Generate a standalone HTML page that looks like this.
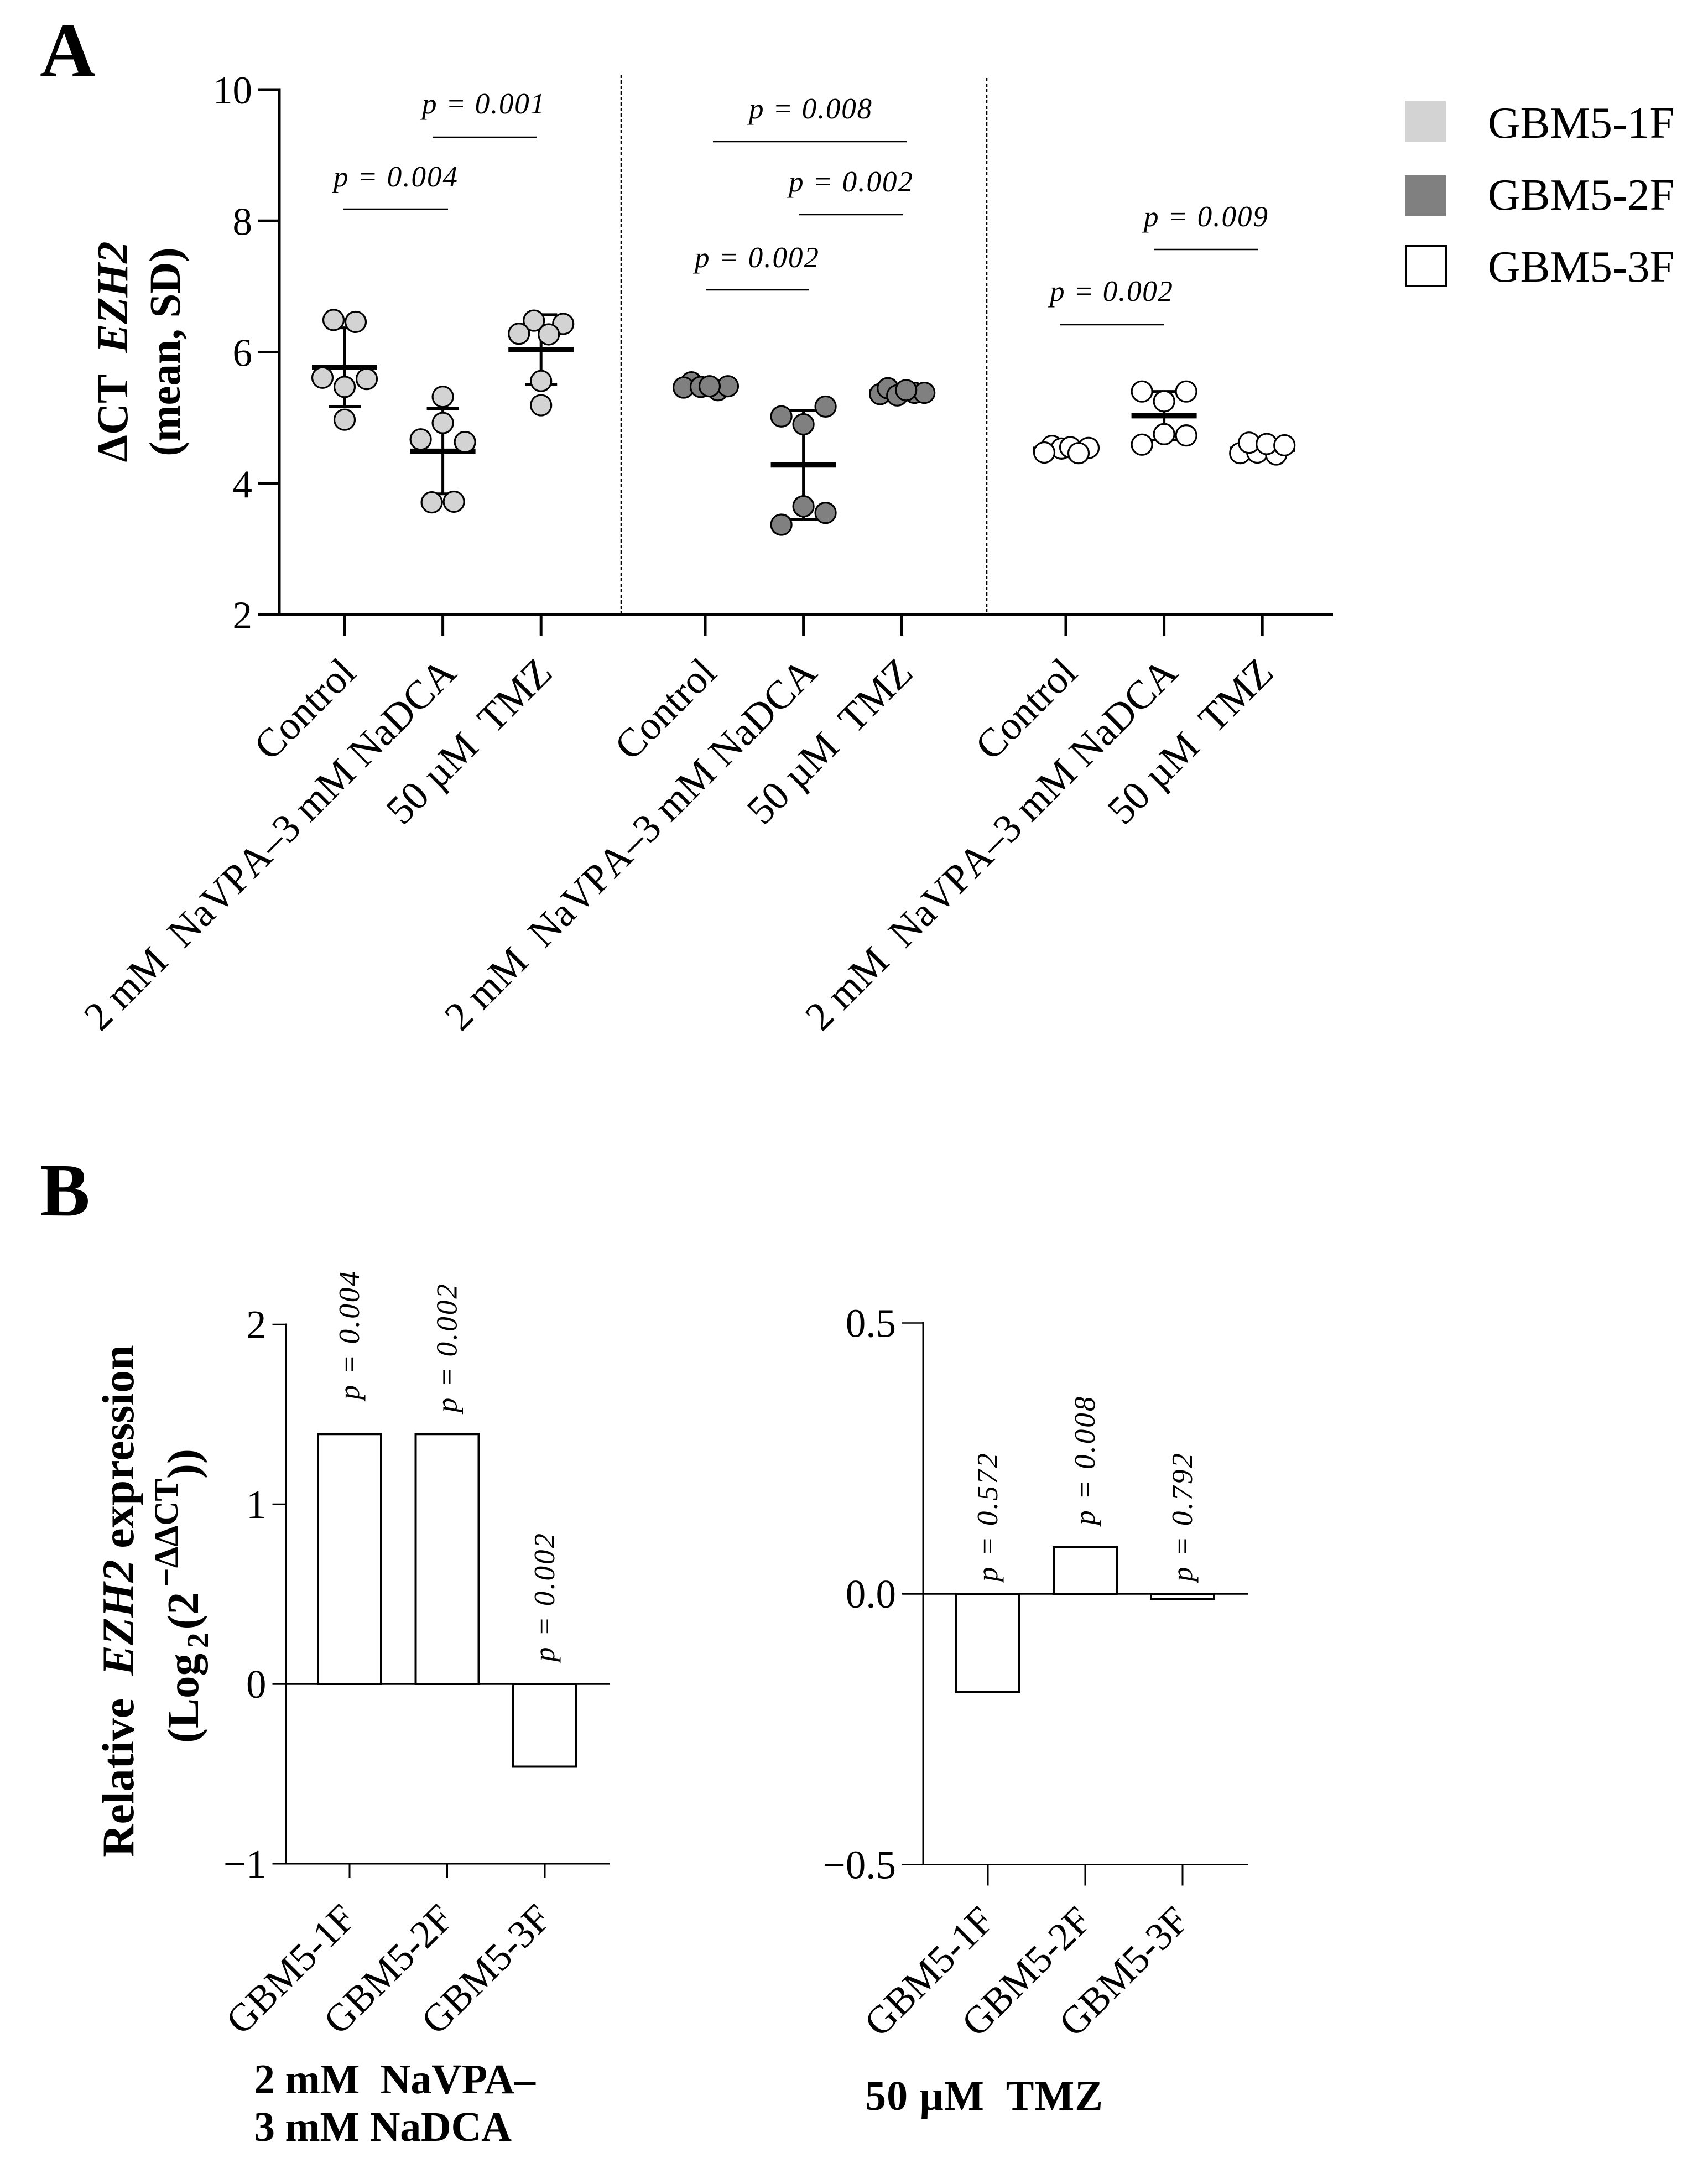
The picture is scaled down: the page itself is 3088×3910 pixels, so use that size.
<!DOCTYPE html>
<html lang="en">
<head>
<meta charset="utf-8">
<title>EZH2 expression in GBM5 cell lines</title>
<style>
html,body{margin:0;padding:0;background:#fff;width:3088px;height:3910px;overflow:hidden}
svg{display:block}
text{font-family:"Liberation Serif","DejaVu Serif",serif;fill:#000;white-space:pre}
.sig{font-size:53px;font-style:italic}
.br{stroke:#000;stroke-width:2.6}
.b{font-weight:bold}
</style>
</head>
<body>
<svg id="figure" xmlns="http://www.w3.org/2000/svg" width="3088" height="3910" viewBox="0 0 3088 3910">
  <rect width="3088" height="3910" fill="#fff"/>

  <text class="b" x="72" y="138" font-size="140">A</text>
  <text class="b" x="72" y="2197" font-size="136">B</text>

  <g id="panelA"></g>

  <text class="b" font-size="79" text-anchor="middle" transform="translate(230,636) rotate(-90)">ΔCT  <tspan font-style="italic">EZH2</tspan></text>
  <text class="b" font-size="79" text-anchor="middle" transform="translate(325,636) rotate(-90)">(mean, SD)</text>

  <line x1="1123" y1="135" x2="1123" y2="1108" stroke="#000" stroke-width="2.5" stroke-dasharray="6 4"/>
  <line x1="1784" y1="141" x2="1784" y2="1108" stroke="#000" stroke-width="2.5" stroke-dasharray="6 4"/>

  <g>
    <line class="br" x1="621" y1="378" x2="810" y2="378"/>
    <text class="sig" x="603" y="337" textLength="224">p = 0.004</text>
    <line class="br" x1="782" y1="248" x2="970" y2="248"/>
    <text class="sig" x="763" y="205" textLength="222">p = 0.001</text>
    <line class="br" x1="1289" y1="256" x2="1639" y2="256"/>
    <text class="sig" x="1354" y="214" textLength="222">p = 0.008</text>
    <line class="br" x1="1445" y1="388" x2="1633" y2="388"/>
    <text class="sig" x="1426" y="346" textLength="224">p = 0.002</text>
    <line class="br" x1="1276" y1="524" x2="1463" y2="524"/>
    <text class="sig" x="1256" y="483" textLength="224">p = 0.002</text>
    <line class="br" x1="2086" y1="451" x2="2275" y2="451"/>
    <text class="sig" x="2068" y="409" textLength="224">p = 0.009</text>
    <line class="br" x1="1917" y1="587" x2="2104" y2="587"/>
    <text class="sig" x="1898" y="544" textLength="222">p = 0.002</text>
  </g>

  <g>
    <rect x="2540" y="182" width="74" height="74" fill="#d3d3d3"/>
    <text x="2690" y="249" font-size="81">GBM5-1F</text>
    <rect x="2540" y="317" width="74" height="74" fill="#808080"/>
    <text x="2690" y="379" font-size="81">GBM5-2F</text>
    <rect x="2541.5" y="444.5" width="73" height="72" fill="#fff" stroke="#000" stroke-width="3"/>
    <text x="2690" y="509" font-size="81">GBM5-3F</text>
  </g>

  <g id="panelBLeft"></g>
  <g id="panelBRight"></g>

  <text class="b" font-size="82" text-anchor="middle" transform="translate(241,2894) rotate(-90)">Relative  <tspan font-style="italic">EZH2</tspan> expression</text>
  <text class="b" font-size="81" transform="translate(358,3151) rotate(-90)">(Log<tspan font-size="55" dx="10" dy="18">2</tspan><tspan dx="6" dy="-18">(2</tspan><tspan font-size="61" dx="9" dy="-37">−ΔΔCT</tspan><tspan dy="37">))</tspan></text>

  <text class="b" x="459" y="3784" font-size="76" textLength="509">2 mM  NaVPA–</text>
  <text class="b" x="459" y="3870" font-size="76" textLength="466">3 mM NaDCA</text>
  <text class="b" x="1564" y="3814" font-size="76" textLength="430">50 µM  TMZ</text>
</svg>

<script>
// ---------- Panel A data ----------
const aTickLabels = [2, 4, 6, 8, 10];
const aCategories = ['Control', '2 mM  NaVPA–3 mM NaDCA', '50 µM  TMZ'];
const lineNames = ['gbm5-1f', 'gbm5-2f', 'gbm5-3f'];
const lineFills = ['#d3d3d3', '#808080', '#ffffff'];

const gbm1Control = [6.49, 6.46, 5.61, 5.59, 5.47, 4.97];
const gbm1Combo = [5.32, 4.92, 4.67, 4.63, 3.71, 3.72];
const gbm1Tmz = [6.48, 6.43, 6.28, 6.27, 5.56, 5.19];
const gbm2Control = [5.54, 5.46, 5.47, 5.42, 5.48, 5.48];
const gbm2Combo = [5.02, 5.17, 4.90, 3.65, 3.55, 3.37];
const gbm2Tmz = [5.36, 5.45, 5.34, 5.38, 5.38, 5.42];
const gbm3Control = [4.57, 4.54, 4.53, 4.55, 4.47, 4.46];
const gbm3Combo = [5.40, 5.40, 5.25, 4.75, 4.73, 4.59];
const gbm3Tmz = [4.46, 4.47, 4.44, 4.62, 4.60, 4.58];

const gbm1Means = [5.77, 4.49, 6.04];
const gbm2Means = [5.47, 4.28, 5.39];
const gbm3Means = [4.52, 5.03, 4.52];
const gbm1Sds = [0.60, 0.65, 0.53];
const gbm2Sds = [0.04, 0.83, 0.04];
const gbm3Sds = [0.04, 0.37, 0.08];

// Swarm slot of each replicate, in dot radii from the category centre
const swarmWide = [-1, 1, -2, 2, 0, 0];
const swarmStack = [0, 0, -2, 2, -1, 1];
const swarmCluster = [-0.65, 2, -2, 0.7, 0, 0];
const swarmFlatA = [-1.25, -1.95, -0.4, 1.15, 2.05, 0.4];
const swarmFlatB = [-1.95, -1.25, -0.4, 1.15, 2.05, 0.4];
const swarmFlatC = [-1.25, 2.05, -0.4, 0.4, -1.95, 1.15];
const swarmPairs = [-2, 2, 0, 0, 2, -2];
const swarmRows = [-2, -0.45, 1.25, -1.2, 0.4, 2];

// ---------- Panel B data ----------
const comboTickLabels = [-1, 0, 1, 2];
const tmzTickLabels = [-0.5, 0, 0.5];
const bCategories = ['GBM5-1F', 'GBM5-2F', 'GBM5-3F'];
const comboValues = [1.39, 1.39, -0.46];
const tmzValues = [-0.181, 0.086, -0.0097];
const comboPValues = ['p = 0.004', 'p = 0.002', 'p = 0.002'];
const tmzPValues = ['p = 0.572', 'p = 0.008', 'p = 0.792'];

// ---------- Helpers ----------
const NS = 'http://www.w3.org/2000/svg';
function svgEl(parent, tag) {
  const el = document.createElementNS(NS, tag);
  parent.appendChild(el);
  return el;
}
function fmtTick(v, decimals) {
  return (v < 0 ? '−' : '') + Math.abs(v).toFixed(decimals);
}
function drawLine(parent, x1, y1, x2, y2, width) {
  const el = svgEl(parent, 'line');
  el.setAttribute('x1', x1);
  el.setAttribute('y1', y1);
  el.setAttribute('x2', x2);
  el.setAttribute('y2', y2);
  el.setAttribute('stroke', '#000');
  el.setAttribute('stroke-width', width);
  return el;
}

// ---------- Panel A ----------
const panelA = document.getElementById('panelA');
const aY = v => 162 + (10 - v) * 118.625;
const aX = (group, cat) => 623 + 652 * group + 177.6 * cat;

function drawPanelA() {
  const yAxis = drawLine(panelA, 505, 159.5, 505, 1113, 5);
  
  
  const xAxis = drawLine(panelA, 467, 1111, 2410, 1111, 5);
  
  

  aTickLabels.forEach(v => {
    const tick = drawLine(panelA, 467, aY(v), 505, aY(v), 5);
    
    
    const label = svgEl(panelA, 'text');
    label.textContent = String(v);
    label.setAttribute('x', 456);
    label.setAttribute('y', aY(v) + 25);
    label.setAttribute('font-size', 71);
    label.setAttribute('text-anchor', 'end');
    
    
  });

  const series = [
    [gbm1Control, gbm1Combo, gbm1Tmz],
    [gbm2Control, gbm2Combo, gbm2Tmz],
    [gbm3Control, gbm3Combo, gbm3Tmz]
  ];
  const means = [gbm1Means, gbm2Means, gbm3Means];
  const sds = [gbm1Sds, gbm2Sds, gbm3Sds];
  const swarms = [
    [swarmWide, swarmStack, swarmCluster],
    [swarmFlatA, swarmPairs, swarmFlatB],
    [swarmFlatC, swarmPairs, swarmRows]
  ];

  series.forEach((groupSeries, g) => {
    const group = svgEl(panelA, 'g');
    
    
    groupSeries.forEach((values, c) => {
      const cx = aX(g, c);
      const tick = drawLine(group, cx, 1111, cx, 1149, 5);
      
      

      const label = svgEl(group, 'text');
      label.textContent = aCategories[c];
      label.setAttribute('font-size', 73);
      label.setAttribute('text-anchor', 'end');
      label.setAttribute('style', c === 1 ? 'font-kerning:none' : '');
      label.setAttribute('transform', 'translate(' + (cx + (c === 1 ? 28 : 24)) + ',1220) rotate(-45)');
      
      

      const mean = means[g][c];
      const sd = sds[g][c];
      const stem = drawLine(group, cx, aY(mean + sd), cx, aY(mean - sd), 5);
      
      
      const capTop = drawLine(group, cx - 29, aY(mean + sd), cx + 29, aY(mean + sd), 5);
      
      
      const capBottom = drawLine(group, cx - 29, aY(mean - sd), cx + 29, aY(mean - sd), 5);
      
      
      const meanBar = drawLine(group, cx - 59, aY(mean), cx + 59, aY(mean), 9.5);
      
      

      values.forEach((v, i) => {
        const dot = svgEl(group, 'circle');
        dot.setAttribute('cx', cx + swarms[g][c][i] * 20);
        dot.setAttribute('cy', aY(v));
        dot.setAttribute('r', 18.5);
        dot.setAttribute('fill', lineFills[g]);
        dot.setAttribute('stroke', '#000');
        dot.setAttribute('stroke-width', 3.2);
        
        
      });
    });
  });
}
drawPanelA();

// ---------- Panel B ----------
function drawBarPanel(root, opts) {
  const y = opts.y;
  const yAxis = drawLine(root, opts.axisX, y(opts.ticks[opts.ticks.length - 1]) - 1.5, opts.axisX, y(opts.ticks[0]), 3);
  
  
  const xAxis = drawLine(root, opts.axisX - opts.tickLen, y(opts.ticks[0]), opts.endX, y(opts.ticks[0]), 3);
  
  

  opts.ticks.forEach(v => {
    const tick = drawLine(root, opts.axisX - opts.tickLen, y(v), opts.axisX, y(v), 2.5);
    
    
    const label = svgEl(root, 'text');
    label.textContent = fmtTick(v, opts.decimals);
    label.setAttribute('x', opts.axisX - opts.tickLen - 11);
    label.setAttribute('y', y(v) + 25);
    label.setAttribute('font-size', 73);
    label.setAttribute('text-anchor', 'end');
    
    
  });

  opts.values.forEach((v, i) => {
    const cx = opts.x(i);
    const tick = drawLine(root, cx, y(opts.ticks[0]), cx, y(opts.ticks[0]) + opts.xTickLen, 3);
    
    

    const label = svgEl(root, 'text');
    label.textContent = bCategories[i];
    label.setAttribute('font-size', 71);
    label.setAttribute('text-anchor', 'end');
    label.setAttribute('transform', 'translate(' + (cx + 15) + ',' + opts.labelY + ') rotate(-45)');
    
    

    const bar = svgEl(root, 'rect');
    bar.setAttribute('x', cx - 57);
    bar.setAttribute('y', Math.min(y(v), y(0)));
    bar.setAttribute('width', 114);
    bar.setAttribute('height', Math.abs(y(v) - y(0)));
    bar.setAttribute('fill', '#fff');
    bar.setAttribute('stroke', '#000');
    bar.setAttribute('stroke-width', 4);
    
    

    const p = svgEl(root, 'text');
    p.textContent = opts.pValues[i];
    p.setAttribute('class', 'sig');
    p.setAttribute('textLength', 232);
    p.setAttribute('transform', 'translate(' + (cx + 17) + ',' + (Math.min(y(v), y(0)) - opts.pGaps[i]) + ') rotate(-90)');
    
    
  });

  const zero = drawLine(root, opts.axisX - opts.tickLen, y(0), opts.endX, y(0), 3.5);
  
  
}

drawBarPanel(document.getElementById('panelBLeft'), {
  y: v => 3044 - v * 325,
  x: i => 632 + 176.5 * i,
  axisX: 516.5,
  endX: 1103,
  tickLen: 24,
  xTickLen: 26,
  labelY: 3472,
  ticks: comboTickLabels,
  decimals: 0,
  values: comboValues,
  pValues: comboPValues,
  pGaps: [62, 39, 40]
});

drawBarPanel(document.getElementById('panelBRight'), {
  y: v => 2881 - v * 979,
  x: i => 1786 + 176 * i,
  axisX: 1669,
  endX: 2256,
  tickLen: 38,
  xTickLen: 38,
  labelY: 3476,
  ticks: tmzTickLabels,
  decimals: 1,
  values: tmzValues,
  pValues: tmzPValues,
  pGaps: [22, 40, 22]
});
</script>
</body>
</html>
